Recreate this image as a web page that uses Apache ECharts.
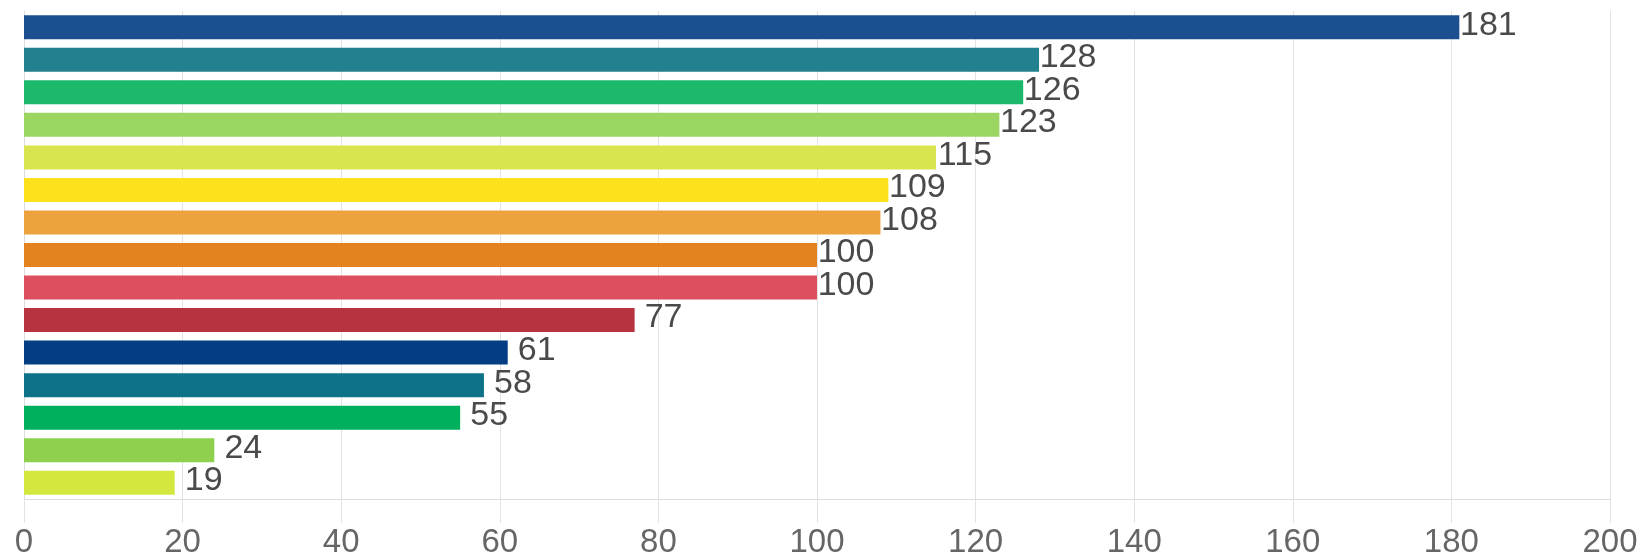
<!DOCTYPE html>
<html>
<head>
<meta charset="utf-8">
<script src="https://cdn.jsdelivr.net/npm/echarts@6/dist/echarts.min.js"></script>
<style>
html,body{margin:0;padding:0;background:#fff;}
#chart{width:1639px;height:554px;}
</style>
</head>
<body>
<div id="chart"></div>
<script>
const categories = ['A','B','C','D','E','F','G','H','I','J','K','L','M','N','O'];
const values = [181, 128, 126, 123, 115, 109, 108, 100, 100, 77, 61, 58, 55, 24, 19];
const barColors = ['#1c4f8f','#23818f','#1db96b','#9bd662','#d8e54e','#fde11c','#eea23e','#e3821e','#dd4f5f','#b73340','#033e85','#0e7388','#00b05c','#8fd14f','#d4e73f'];
const xTicks = [0, 20, 40, 60, 80, 100, 120, 140, 160, 180, 200];

const chart = echarts.init(document.getElementById('chart'), null, {renderer: 'canvas'});
chart.setOption({
  animation: false,
  backgroundColor: '#ffffff',
  grid: {left: 24, right: 29, top: 11, bottom: 55, containLabel: false, outerBoundsMode: 'none'},
  xAxis: {
    type: 'value',
    min: xTicks[0],
    max: xTicks[xTicks.length - 1],
    interval: 20,
    axisLine: {show: true, lineStyle: {color: '#dcdcdc', width: 1}},
    axisTick: {show: true, length: 24, lineStyle: {color: '#e2e2e2'}},
    splitLine: {show: true, lineStyle: {color: '#e2e2e2', width: 1}},
    axisLabel: {color: '#666', fontSize: 33, fontFamily: 'Liberation Sans, Arial, sans-serif', margin: 27}
  },
  yAxis: {
    type: 'category',
    data: categories,
    inverse: true,
    axisLine: {show: true, lineStyle: {color: '#dcdcdc', width: 1}},
    axisTick: {show: false},
    axisLabel: {show: false},
    splitLine: {show: false}
  },
  series: [{
    type: 'bar',
    barWidth: 24,
    data: values.map((v, i) => ({value: v, itemStyle: {color: barColors[i]}})),
    label: {
      show: true,
      position: 'right',
      distance: 0,
      align: 'center',
      offset: [29, -2],
      color: '#4a4a4a',
      fontSize: 34,
      fontFamily: 'Liberation Sans, Arial, sans-serif'
    }
  }]
});
</script>
</body>
</html>
